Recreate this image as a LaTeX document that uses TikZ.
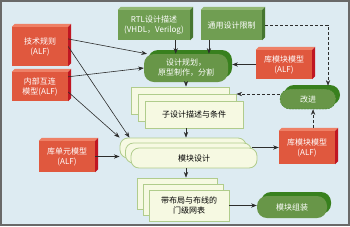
\documentclass[tikz,border=0pt]{standalone}
\usepackage{fontspec}
\setmainfont{Noto Sans CJK SC}
\usepackage{tikz}
\usetikzlibrary{arrows.meta,shadows}
\definecolor{PageBlue}{RGB}{221,235,242}
\definecolor{FrameGray}{RGB}{105,105,105}
\definecolor{AlfRed}{RGB}{224,88,62}
\definecolor{AlfTop}{RGB}{238,128,102}
\definecolor{AlfSide}{RGB}{192,22,34}
\definecolor{SpecGreen}{RGB}{112,158,82}
\definecolor{SpecTop}{RGB}{146,184,116}
\definecolor{SpecSide}{RGB}{70,118,48}
\definecolor{TaskGreen}{RGB}{104,150,72}
\definecolor{TaskShade}{RGB}{56,128,30}
\definecolor{SheetFill}{RGB}{246,249,226}
\definecolor{SheetLine}{RGB}{176,204,140}
\definecolor{FlowGray}{RGB}{45,45,45}
% top and right faces of a raised box
\newcommand{\sidefaces}[3]{%
  \fill[#2] (#1.north west) -- ++(3,-3) -- ([shift={(3,-3)}]#1.north east) -- (#1.north east) -- cycle;
  \fill[#3] (#1.north east) -- ++(3,-3) -- ([shift={(3,-3)}]#1.south east) -- (#1.south east) -- cycle;}

\begin{document}
\begin{tikzpicture}[x=1pt,y=-1pt,>=Stealth,every node/.style={font=\fontsize{8}{10}\selectfont}]
\tikzset{alf/.style={fill=AlfRed,text=white,align=center,inner sep=1pt,minimum width=56pt},
  spec/.style={fill=SpecGreen,text=white,align=center,inner sep=1pt,minimum height=30pt},
  task/.style={fill=TaskGreen,text=white,align=center,inner sep=1pt,rounded corners=10pt,copy shadow={shadow xshift=4pt,shadow yshift=4pt,fill=TaskShade,draw=none}},
  sheet/.style={draw=SheetLine,fill=SheetFill,line width=0.8pt,align=center,inner sep=1pt},
  link/.style={->,draw=FlowGray,line width=0.6pt},
  dlink/.style={link,dash pattern=on 3pt off 2pt}}
\useasboundingbox (0,0) rectangle (350,226);
\fill[PageBlue] (0,0) rectangle (350,226);
\draw[FrameGray,line width=2pt] (1,1) rectangle (349,225);

% library models
\node[alf,minimum height=39pt] (tech) at (40,46.5) {技术规则\\(ALF)};
\node[alf,minimum height=29pt] (wire) at (40,86.5) {内部互连\\模型(ALF)};
\node[alf,minimum height=31pt] (cell) at (67,156.5) {库单元模型\\(ALF)};
\node[alf,minimum height=29pt] (libA) at (284,64.5) {库模块模型\\(ALF)};
\node[alf,minimum height=33pt] (libB) at (307,147.5) {库模块模型\\(ALF)};
\sidefaces{tech}{AlfTop}{AlfSide}
\sidefaces{wire}{AlfTop}{AlfSide}
\sidefaces{cell}{AlfTop}{AlfSide}
\sidefaces{libA}{AlfTop}{AlfSide}
\sidefaces{libB}{AlfTop}{AlfSide}

% design inputs
\node[spec,minimum width=72pt] (rtl) at (154,25) {RTL设计描述\\(VHDL，Verilog)};
\node[spec,minimum width=61pt] (gen) at (231.5,25) {通用设计限制};
\sidefaces{rtl}{SpecTop}{SpecSide}
\sidefaces{gen}{SpecTop}{SpecSide}

% tasks
\node[task,minimum width=84pt,minimum height=28pt] (plan) at (186,68) {设计规划，\\原型制作，分割};
\node[task,draw=TaskShade,dash pattern=on 2pt off 1pt,minimum width=56pt,minimum height=20pt] (fix) at (308,99) {改进};
\node[task,minimum width=70pt,minimum height=22pt] (asm) at (292,207) {模块组装};

% stacked results
\node[sheet,minimum width=98pt,minimum height=27pt] (sub1) at (180,100.5) {};
\node[sheet,minimum width=98pt,minimum height=27pt] (sub2) at (187,107.5) {};
\node[sheet,minimum width=98pt,minimum height=27pt] (sub) at (194,114.5) {子设计描述与条件};
\node[sheet,rounded corners=8pt,minimum width=126pt,minimum height=20pt] (des1) at (183,148) {};
\node[sheet,rounded corners=8pt,minimum width=126pt,minimum height=20pt] (des2) at (188.5,153) {};
\node[sheet,rounded corners=8pt,minimum width=126pt,minimum height=20pt] (des) at (194,158) {模块设计};
\node[sheet,minimum width=80pt,minimum height=31pt] (net1) at (177,193.5) {};
\node[sheet,minimum width=80pt,minimum height=31pt] (net2) at (183,199.5) {};
\node[sheet,minimum width=80pt,minimum height=31pt] (net) at (189,205.5) {带布局与布线的\\门级网表};

% flow
\draw[link] (tech.15) -- (plan.160);
\draw[link] (wire.19) -- (plan.west);
\draw[link] (tech.east) -- (des1.169);
\draw[link] (wire.-11) -- (des1.north west);
\draw[link] (cell.east) -- (cell.east -| des1.west);
\draw[link] (rtl.-35.5) -- (rtl.-35.5 |- plan.north);
\draw[link] (gen.-146) -- (gen.-146 |- plan.north);
\draw[link,shorten >=4pt] (libA.west) -- (libA.west -| plan.east);
\draw[link] (plan.south) -- (plan.south |- sub1.north);
\draw[link] (sub.south -| plan.south) -- (plan.south |- des1.north);
\draw[link] (des.south -| plan.south) -- (plan.south |- net1.north);
\draw[link] (des2.east |- libB.west) -- (libB.west);
\draw[link] (net.east) -- (net.east -| asm.west);
\draw[dlink,shorten <=3pt,shorten >=3pt] (gen.east) -| (fix.27);
\draw[dlink] (fix.170) -- (fix.170 -| sub2.east);
\draw[dlink,shorten <=3pt] (libB.70) -- (libB.70 |- fix.south);
\end{tikzpicture}
\end{document}
